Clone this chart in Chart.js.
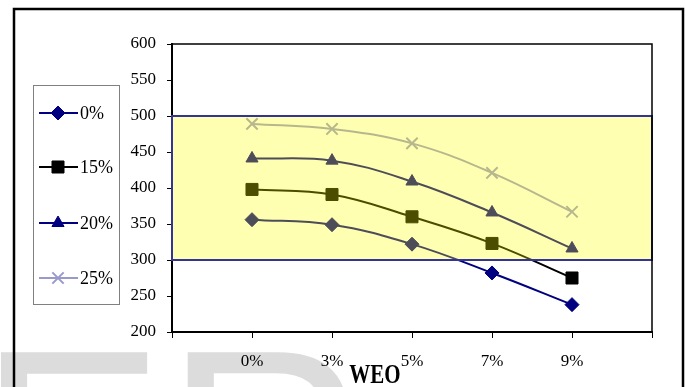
<!DOCTYPE html>
<html>
<head>
<meta charset="utf-8">
<script src="https://cdn.jsdelivr.net/npm/chart.js@4/dist/chart.umd.min.js"></script>
<style>
  html, body { margin: 0; padding: 0; background: #fff; overflow: hidden; }
  #wrap { position: relative; width: 686px; height: 387px; }
</style>
</head>
<body>
<div id="wrap"><canvas id="c" width="686" height="387"></canvas></div>
<script>
// WEO levels on the category axis
const categories = ['0%', '3%', '5%', '7%', '9%'];
// one series per legend entry
const seriesNames = ['0%', '15%', '20%', '25%'];
const values0  = [356, 349, 322, 282, 238];
const values15 = [398, 391, 360, 323, 275];
const values20 = [441, 438, 409, 366, 316];
const values25 = [489, 482, 462, 421, 367];
// value axis ticks
const yTickValues = [200, 250, 300, 350, 400, 450, 500, 550, 600];
// highlighted band on the value axis
const bandLow = 300;
const bandHigh = 500;
const axisTitle = 'WEO';

const SERIF = '"Liberation Serif", "Times New Roman", serif';

// empty slots either side so the points sit on the inner tick marks
const labels = [''].concat(categories, ['']);
const pad = arr => [null].concat(arr, [null]);

const styles = [
  { color: '#000080', pointStyle: 'rectRot',  radius: 7 },
  { color: '#000000', pointStyle: 'rect',     radius: 8.5 },
  { color: '#000080', pointStyle: 'triangle', radius: 7 },
  { color: '#9999CC', pointStyle: 'crossRot', radius: 8 }
];
const seriesValues = [values0, values15, values20, values25];

const datasets = seriesNames.map((name, i) => ({
  label: name,
  data: pad(seriesValues[i]),
  borderColor: styles[i].color,
  backgroundColor: styles[i].color,
  pointBackgroundColor: styles[i].color,
  pointBorderColor: styles[i].color,
  pointStyle: styles[i].pointStyle,
  pointRadius: styles[i].radius,
  pointBorderWidth: styles[i].pointStyle === 'crossRot' ? 2 : 1,
  borderWidth: 2,
  tension: 0.4,
  fill: false
}));

const decor = {
  id: 'decor',
  beforeDraw(chart) {
    const ctx = chart.ctx;
    ctx.save();
    ctx.fillStyle = '#ffffff';
    ctx.fillRect(0, 0, chart.width, chart.height);
    // faint background lettering
    ctx.fillStyle = '#dcdcdc';
    ctx.font = '280px "Liberation Sans", Arial, sans-serif';
    ctx.textBaseline = 'alphabetic';
    ctx.textAlign = 'left';
    ctx.fillText('ER', -22, 545);
    ctx.restore();
  },
  afterDatasetsDraw(chart) {
    const ctx = chart.ctx;
    const a = chart.chartArea;
    const y = chart.scales.y;
    const top = y.getPixelForValue(bandHigh);
    const bot = y.getPixelForValue(bandLow);
    ctx.save();
    // translucent band over the series
    ctx.fillStyle = 'rgba(255,255,0,0.3)';
    ctx.fillRect(a.left, top, a.right - a.left, bot - top);
    ctx.strokeStyle = '#333399';
    ctx.lineWidth = 2;
    ctx.strokeRect(a.left, top, a.right - a.left, bot - top);
    // plot frame top and right
    ctx.strokeStyle = '#000';
    ctx.lineWidth = 1.5;
    ctx.beginPath();
    ctx.moveTo(a.left, a.top);
    ctx.lineTo(a.right, a.top);
    ctx.lineTo(a.right, a.bottom);
    ctx.stroke();
    ctx.restore();
  },
  afterDraw(chart) {
    const ctx = chart.ctx;
    ctx.save();
    // outer chart border
    ctx.strokeStyle = '#000';
    ctx.lineWidth = 2.5;
    ctx.strokeRect(14, 9, 669, 430);

    // axis title
    ctx.save();
    ctx.translate(375, 383);
    ctx.scale(1, 1.3);
    ctx.fillStyle = '#000';
    ctx.font = 'bold 21px ' + SERIF;
    ctx.textAlign = 'center';
    ctx.textBaseline = 'alphabetic';
    ctx.fillText(axisTitle, 0, 0);
    ctx.restore();

    // legend box
    ctx.strokeStyle = '#808080';
    ctx.lineWidth = 1;
    ctx.fillStyle = '#fff';
    ctx.fillRect(33.5, 85.5, 86, 219);
    ctx.strokeRect(33.5, 85.5, 86, 219);
    const rows = [113, 167, 223, 278];
    chart.data.datasets.forEach((ds, i) => {
      const yy = rows[i];
      ctx.strokeStyle = ds.borderColor;
      ctx.lineWidth = 2;
      ctx.beginPath();
      ctx.moveTo(39, yy);
      ctx.lineTo(78, yy);
      ctx.stroke();
      ctx.fillStyle = ds.pointBackgroundColor;
      ctx.strokeStyle = ds.pointBorderColor;
      ctx.lineWidth = ds.pointBorderWidth;
      Chart.helpers.drawPoint(ctx, {
        pointStyle: ds.pointStyle,
        radius: ds.pointRadius,
        rotation: 0,
        borderWidth: ds.pointBorderWidth
      }, 58, yy);
      ctx.fillStyle = '#000';
      ctx.font = '18px ' + SERIF;
      ctx.textAlign = 'left';
      ctx.textBaseline = 'middle';
      ctx.fillText(ds.label, 80, yy + 1);
    });
    ctx.restore();
  }
};

new Chart(document.getElementById('c'), {
  type: 'line',
  data: { labels, datasets },
  options: {
    responsive: false,
    animation: false,
    layout: { padding: { top: 44, right: 34, left: 0, bottom: 0 } },
    plugins: {
      legend: { display: false },
      tooltip: { enabled: false },
      title: { display: false }
    },
    scales: {
      x: {
        type: 'category',
        offset: false,
        grid: {
          offset: false,
          drawOnChartArea: false,
          drawTicks: true,
          tickLength: 6,
          tickColor: '#000',
          tickWidth: 1
        },
        border: { display: true, color: '#000', width: 2 },
        ticks: {
          autoSkip: false,
          maxRotation: 0,
          padding: 13,
          color: '#000',
          font: { family: SERIF, size: 17 }
        },
        afterFit(scale) { scale.height = 55; }
      },
      y: {
        min: yTickValues[0],
        max: yTickValues[yTickValues.length - 1],
        afterBuildTicks(scale) { scale.ticks = yTickValues.map(v => ({ value: v })); },
        grid: {
          drawOnChartArea: false,
          drawTicks: true,
          tickLength: 5,
          tickColor: '#000',
          tickWidth: 1
        },
        border: { display: true, color: '#000', width: 2 },
        ticks: {
          padding: 11,
          color: '#000',
          font: { family: SERIF, size: 17 }
        },
        afterFit(scale) { scale.width = 172; }
      }
    }
  },
  plugins: [decor]
});
</script>
</body>
</html>
